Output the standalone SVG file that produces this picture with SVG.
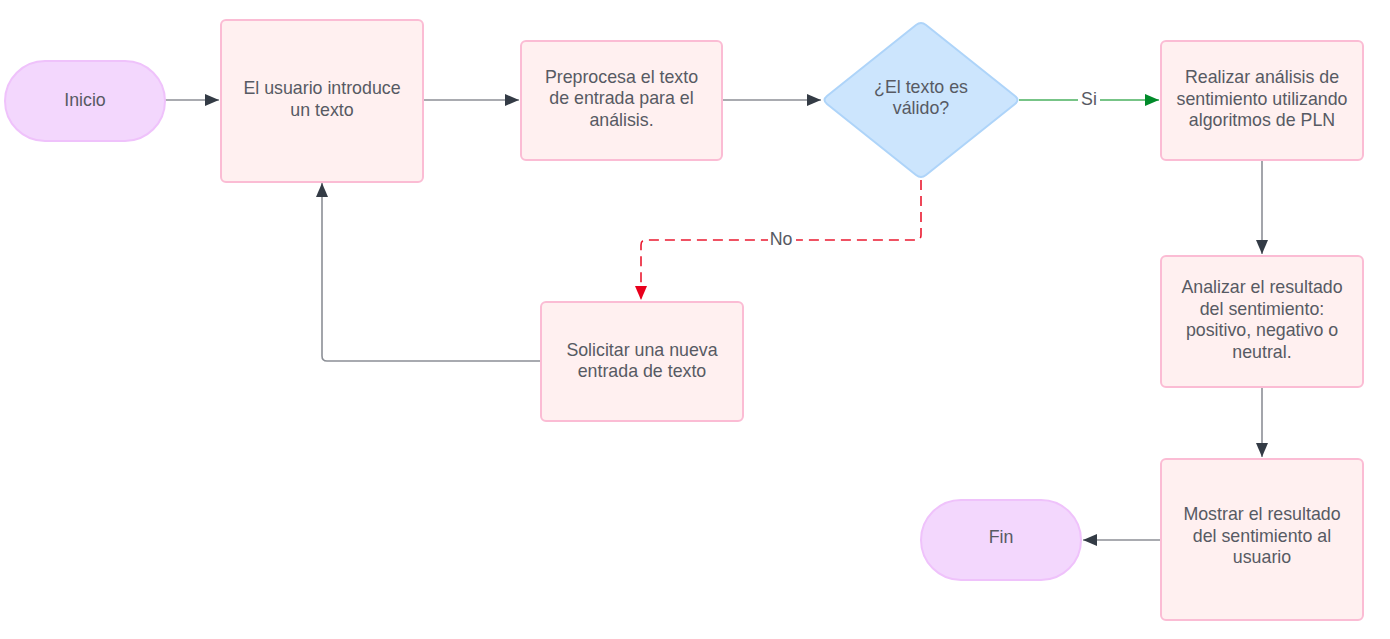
<svg xmlns="http://www.w3.org/2000/svg" width="1390" height="639" viewBox="0 0 1390 639">
<style>
.box{fill:#fff0f0;stroke:#fbbcd4;stroke-width:2}
.term{fill:#f3d7fd;stroke:#efc2fb;stroke-width:2}
.dec{fill:#cce5fd;stroke:#aed4f9;stroke-width:2}
.t{font-family:"Liberation Sans",Arial,sans-serif;font-size:17.8px;fill:#575a63;text-anchor:middle}
.ln{fill:none;stroke:#8c8f96;stroke-width:1.6}
.g{fill:none;stroke:#77c487;stroke-width:1.8}
.r{fill:none;stroke:#ea1a30;stroke-width:1.6;stroke-dasharray:10 6}
.lbl{font-family:"Liberation Sans",Arial,sans-serif;font-size:17.8px;fill:#575a63;text-anchor:middle}
</style>
<defs>
<marker id="ad" viewBox="0 0 14 12" refX="14" refY="6" markerWidth="14" markerHeight="12" markerUnits="userSpaceOnUse" orient="auto"><path d="M0,0 L14,6 L0,12 Z" fill="#333b45"/></marker>
<marker id="ag" viewBox="0 0 14 12" refX="14" refY="6" markerWidth="14" markerHeight="12" markerUnits="userSpaceOnUse" orient="auto"><path d="M0,0 L14,6 L0,12 Z" fill="#008a2a"/></marker>
<marker id="ar" viewBox="0 0 14 12" refX="14" refY="6" markerWidth="14" markerHeight="12" markerUnits="userSpaceOnUse" orient="auto"><path d="M0,0 L14,6 L0,12 Z" fill="#e8001c"/></marker>
</defs>
<g id="connectors">
<path class="ln" d="M165,100 H219" marker-end="url(#ad)"/>
<path class="ln" d="M423,100 H519" marker-end="url(#ad)"/>
<path class="ln" d="M722,100 H821" marker-end="url(#ad)"/>
<path class="g" d="M1019,100 H1159" marker-end="url(#ag)"/>
<path class="r" d="M921,180 V235 Q921,240 916,240 H646 Q641,240 641,245 V300" marker-end="url(#ar)"/>
<path class="ln" d="M541,361 H327 Q322,361 322,356 V183" marker-end="url(#ad)"/>
<path class="ln" d="M1262,161 V254" marker-end="url(#ad)"/>
<path class="ln" d="M1262,388 V457" marker-end="url(#ad)"/>
<path class="ln" d="M1161,540 H1083" marker-end="url(#ad)"/>
<rect x="1078" y="88" width="22" height="22" fill="#ffffff"/>
<text class="lbl" x="1089" y="105">Si</text>
<rect x="768" y="228" width="28" height="22" fill="#ffffff"/>
<text class="lbl" x="781" y="245">No</text>
</g>
<g id="inicio">
<rect class="term" x="5" y="61" width="160" height="80" rx="40"/>
<text class="t" x="85" y="106">Inicio</text>
</g>
<g id="introduce">
<rect class="box" x="221" y="20" width="202" height="162" rx="5"/>
<text class="t" x="322" y="94">El usuario introduce</text>
<text class="t" x="322" y="116">un texto</text>
</g>
<g id="preprocesa">
<rect class="box" x="521" y="41" width="201" height="119" rx="5"/>
<text class="t" x="621.5" y="83">Preprocesa el texto</text>
<text class="t" x="621.5" y="104">de entrada para el</text>
<text class="t" x="621.5" y="126">análisis.</text>
</g>
<g id="valido">
<path class="dec" d="M916,25 Q921,21 926,25 L1015,96 Q1020,100 1015,104 L926,175 Q921,179 916,175 L827,104 Q822,100 827,96 Z"/>
<text class="t" x="921" y="93">¿El texto es</text>
<text class="t" x="921" y="114">válido?</text>
</g>
<g id="realizar">
<rect class="box" x="1161" y="41" width="202" height="119" rx="5"/>
<text class="t" x="1262" y="83">Realizar análisis de</text>
<text class="t" x="1262" y="105">sentimiento utilizando</text>
<text class="t" x="1262" y="126">algoritmos de PLN</text>
</g>
<g id="analizar">
<rect class="box" x="1161" y="256" width="202" height="131" rx="5"/>
<text class="t" x="1262" y="293">Analizar el resultado</text>
<text class="t" x="1262" y="315">del sentimiento:</text>
<text class="t" x="1262" y="336">positivo, negativo o</text>
<text class="t" x="1262" y="358">neutral.</text>
</g>
<g id="mostrar">
<rect class="box" x="1161" y="459" width="202" height="161" rx="5"/>
<text class="t" x="1262" y="520">Mostrar el resultado</text>
<text class="t" x="1262" y="542">del sentimiento al</text>
<text class="t" x="1262" y="563">usuario</text>
</g>
<g id="fin">
<rect class="term" x="921" y="500" width="160" height="80" rx="40"/>
<text class="t" x="1001" y="543">Fin</text>
</g>
<g id="solicitar">
<rect class="box" x="541" y="302" width="202" height="119" rx="5"/>
<text class="t" x="642" y="356">Solicitar una nueva</text>
<text class="t" x="642" y="377">entrada de texto</text>
</g>
</svg>
